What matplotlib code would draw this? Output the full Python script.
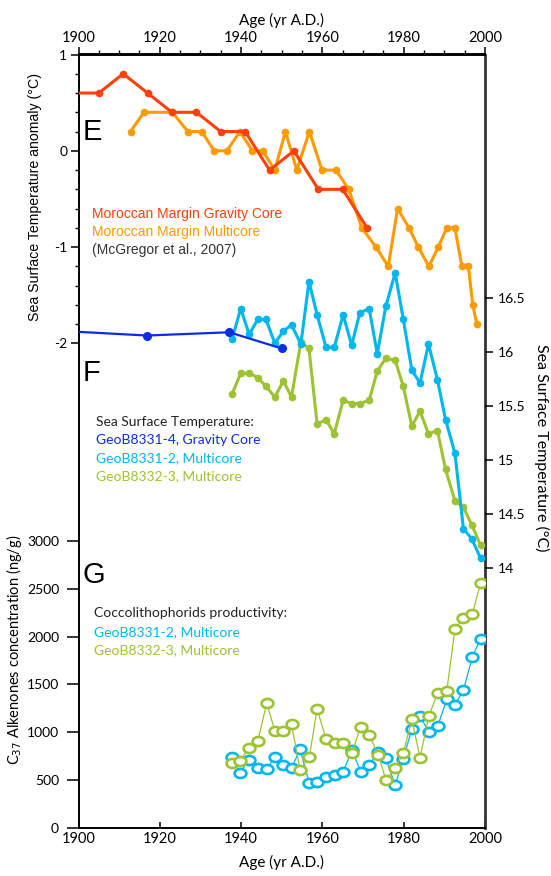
import matplotlib
matplotlib.use("Agg")
import matplotlib.pyplot as plt
import matplotlib.ticker as mticker
from matplotlib.path import Path
from matplotlib.transforms import Affine2D

# --- E: SST anomaly, Moroccan margin (McGregor et al., 2007)
gravity_years = [1899, 1905, 1911, 1917, 1923, 1929, 1935, 1941, 1947, 1953, 1959, 1965, 1971]
gravity_anom = [0.6, 0.6, 0.8, 0.6, 0.4, 0.4, 0.2, 0.2, -0.2, 0.0, -0.4, -0.4, -0.8]

multi_years = [1912.8, 1916.1, 1923.1, 1926.9, 1930.3, 1933.4, 1936.5, 1939.7, 1942.8, 1945.3,
               1948.3, 1950.9, 1953.7, 1956.8, 1959.9, 1963.3, 1966.5, 1969.7, 1973.2, 1976.2,
               1978.5, 1981.3, 1983.6, 1986.2, 1988.5, 1990.6, 1992.6, 1994.3, 1995.9, 1997.0, 1998.0]
multi_anom = [0.2, 0.4, 0.4, 0.2, 0.2, 0.0, 0.0, 0.2, 0.0, 0.0,
              -0.2, 0.2, -0.2, 0.2, -0.2, -0.2, -0.4, -0.8, -1.0, -1.2,
              -0.6, -0.8, -1.0, -1.2, -1.0, -0.8, -0.8, -1.2, -1.2, -1.6, -1.8]

# --- F: SST (degC)
geob4_years = [1897, 1916.8, 1937.1, 1950.0]
geob4_sst = [16.19, 16.15, 16.18, 16.03]

mc_years = [1937.8, 1939.9, 1942.0, 1944.1, 1946.1, 1948.3, 1950.4, 1952.4, 1954.7, 1956.7,
            1958.7, 1960.9, 1962.9, 1965.1, 1967.2, 1969.2, 1971.5, 1973.5, 1975.6, 1977.9,
            1979.9, 1982.0, 1984.0, 1986.1, 1988.3, 1990.3, 1992.6, 1994.7, 1996.7, 1998.9]
geob2_sst = [16.12, 16.40, 16.16, 16.30, 16.30, 16.08, 16.19, 16.25, 16.07, 16.65,
             16.34, 16.04, 16.04, 16.34, 16.06, 16.36, 16.40, 15.98, 16.42, 16.73,
             16.30, 15.83, 15.71, 16.07, 15.74, 15.37, 15.06, 14.36, 14.27, 14.09]
geob3_sst = [15.61, 15.80, 15.80, 15.76, 15.68, 15.58, 15.73, 15.58, 16.09, 16.03,
             15.33, 15.37, 15.24, 15.55, 15.52, 15.52, 15.55, 15.82, 15.94, 15.92,
             15.68, 15.31, 15.45, 15.24, 15.27, 14.91, 14.62, 14.56, 14.40, 14.21]

# --- G: C37 alkenones concentration (ng/g)
alk_years = [1937.7, 1939.7, 1941.9, 1944.1, 1946.3, 1948.3, 1950.4, 1952.4, 1954.5, 1956.8,
             1958.7, 1960.9, 1963.1, 1965.1, 1967.3, 1969.4, 1971.5, 1973.8, 1975.6, 1977.9,
             1979.9, 1982.0, 1984.0, 1986.2, 1988.4, 1990.6, 1992.6, 1994.7, 1996.9, 1998.9]
alk_geob2 = [739, 578, 711, 624, 614, 745, 659, 624, 823, 467,
             484, 530, 554, 589, 815, 589, 659, 798, 729, 449,
             721, 1035, 1171, 1000, 1069, 1345, 1286, 1443, 1791, 1976]
alk_geob3 = [683, 700, 833, 909, 1303, 1017, 1017, 1087, 606, 745,
             1244, 930, 885, 892, 787, 1059, 972, 763, 502, 624,
             781, 1136, 735, 1171, 1414, 1432, 2080, 2192, 2237, 2558]

RED = "#ff400a"
ORANGE = "#ff9a00"
BLUE = "#0a2ee0"
CYAN = "#00b6ee"
GREEN = "#9dc232"

HELV = ["Liberation Sans", "DejaVu Sans"]
MYR = ["Lato", "DejaVu Sans"]

plt.rcParams["axes.unicode_minus"] = False
plt.rcParams["font.family"] = MYR

W, H = 551, 876
fig = plt.figure(figsize=(W / 100, H / 100), dpi=100)


def fx(px):
    return px / W


def fy(py):
    return 1 - py / H


x0, x1, y0, y1 = 78.5, 485, 54.5, 828
ax = fig.add_axes([fx(x0), fy(y1), (x1 - x0) / W, (y1 - y0) / H])
ax.patch.set_visible(False)
ax.set_xlim(1900, 2000)
ax.set_ylim(-7.03, 1)

for s in ["left", "bottom", "top"]:
    ax.spines[s].set_linewidth(1.4)
ax.spines["right"].set_linewidth(2)
ax.spines["right"].set_color("#333333")

# left anomaly scale
ax.set_yticks([1, 0, -1, -2])
ax.set_yticklabels(["1", "0", "-1", "-2"])
ax.set_yticks([v / 10 for v in range(-20, 11, 2) if v % 10 != 0], minor=True)
ax.tick_params(axis="y", which="major", direction="out", length=6, width=1.1, labelsize=10, pad=2)
ax.tick_params(axis="y", which="minor", direction="out", length=3, width=1)

# bottom age axis
ax.set_xticks(range(1900, 2001, 20))
ax.tick_params(axis="x", which="major", direction="in", length=4, width=1.1, labelsize=10.5, pad=3)
ax.set_xlabel("Age (yr A.D.)", fontsize=11, labelpad=6)

# top age axis
top = ax.secondary_xaxis("top")
top.set_xticks(range(1900, 2001, 20))
top.xaxis.set_minor_locator(mticker.MultipleLocator(5))
top.tick_params(which="major", direction="out", length=5, width=1.1, labelsize=10.5, pad=2)
top.tick_params(which="minor", direction="out", length=3, width=1)
top.spines["top"].set_linewidth(1.4)
top.set_xlabel("Age (yr A.D.)", fontsize=11, labelpad=4)

ax.plot(multi_years, multi_anom, color=ORANGE, lw=2.2, marker="o", ms=4.5, zorder=3)
ax.plot(gravity_years, gravity_anom, color=RED, lw=2.2, marker="o", ms=4.5, zorder=4)

# right SST scale
axf = ax.twinx()
axf.set_ylim(11.59, 18.752)
for s in axf.spines.values():
    s.set_visible(False)
axf.set_yticks([14, 14.5, 15, 15.5, 16, 16.5])
axf.set_yticklabels(["14", "14.5", "15", "15.5", "16", "16.5"])
axf.tick_params(axis="y", direction="out", length=6, width=1.1, labelsize=10, pad=3)
axf.plot(mc_years, geob3_sst, color=GREEN, lw=2.2, marker="o", ms=4.5, zorder=3)
axf.plot(mc_years, geob2_sst, color=CYAN, lw=2.2, marker="o", ms=4.5, zorder=4)
axf.plot(geob4_years, geob4_sst, color=BLUE, lw=1.6, marker="o", ms=5.5, zorder=5)

# lower-left alkenone scale
axg = ax.twinx()
axg.yaxis.tick_left()
axg.set_ylim(0, 8083)
for s in axg.spines.values():
    s.set_visible(False)
axg.set_yticks(range(0, 3001, 500))
axg.tick_params(axis="y", direction="out", length=9, width=1.1, labelsize=10, pad=5)

oval = Path.unit_circle().transformed(Affine2D().scale(1.3, 1.0))
axg.plot(alk_years, alk_geob2, color=CYAN, lw=0.9, marker=oval, ms=8.5, mew=1.9,
         mfc="white", mec=CYAN, zorder=3)
axg.plot(alk_years, alk_geob3, color=GREEN, lw=0.9, marker=oval, ms=8.5, mew=1.9,
         mfc="white", mec=GREEN, zorder=4)

# axis titles
fig.text(fx(35), fy(197), "Sea Surface Temperature anomaly (°C)", rotation=90,
         ha="center", va="center", fontsize=10.2, family=HELV)
fig.text(fx(14), fy(650), "C$_{37}$ Alkenones concentration (ng/g)", rotation=90,
         ha="center", va="center", fontsize=10.5)
fig.text(fx(542), fy(448), "Sea Surface Temperature (°C)", rotation=270,
         ha="center", va="center", fontsize=11.5)

# panel letters
for letter, yy in [("E", 132), ("F", 373), ("G", 575)]:
    fig.text(fx(83), fy(yy), letter, ha="left", va="center", fontsize=21, family=HELV)

# panel E notes
fig.text(fx(92), fy(214), "Moroccan Margin Gravity Core", color=RED, fontsize=10,
         family=HELV, va="center")
fig.text(fx(92), fy(232), "Moroccan Margin Multicore", color=ORANGE, fontsize=10,
         family=HELV, va="center")
fig.text(fx(92), fy(250), "(McGregor et al., 2007)", color="#333333", fontsize=10,
         family=HELV, va="center")

# panel F notes
for txt, col, yy in [("Sea Surface Temperature:", "#222222", 422),
                     ("GeoB8331-4, Gravity Core", BLUE, 440),
                     ("GeoB8331-2, Multicore", CYAN, 458),
                     ("GeoB8332-3, Multicore", GREEN, 476)]:
    fig.text(fx(96), fy(yy), txt, color=col, fontsize=10, va="center")

# panel G notes
for txt, col, yy in [("Coccolithophorids productivity:", "#222222", 613),
                     ("GeoB8331-2, Multicore", CYAN, 632),
                     ("GeoB8332-3, Multicore", GREEN, 650)]:
    fig.text(fx(94), fy(yy), txt, color=col, fontsize=10, va="center")

fig.savefig("out.png", dpi=100)
